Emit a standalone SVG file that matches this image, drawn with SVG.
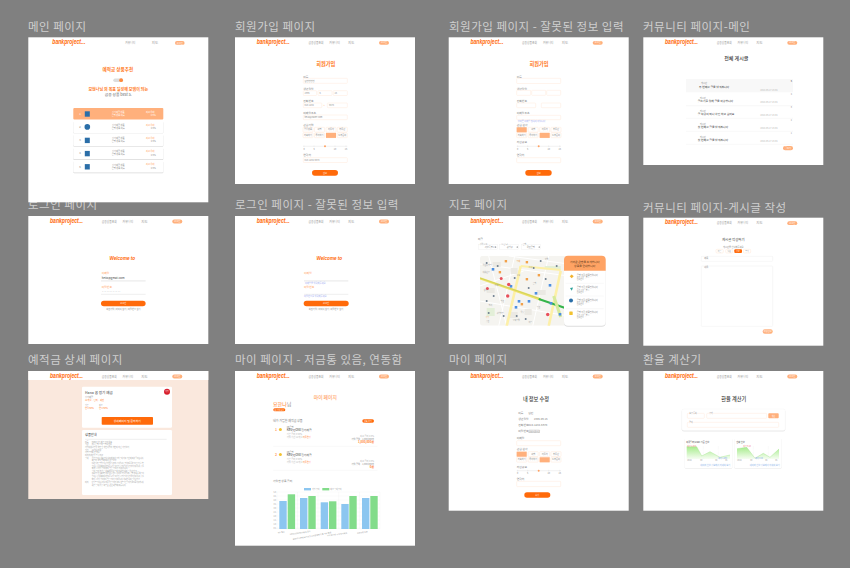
<svg xmlns="http://www.w3.org/2000/svg" xmlns:xlink="http://www.w3.org/1999/xlink" width="850" height="568" viewBox="0 0 850 568">
<style>
text{font-family:"Noto Sans CJK KR","Noto Sans",sans-serif}
.cap{font-size:11.5px;fill:#cfcfcf;letter-spacing:.5px}
.logo{font-family:"Liberation Sans",sans-serif;font-size:6.4px;font-weight:700;font-style:italic;fill:#ff6a0a}
.nav{font-size:3.5px;fill:#999}
.tiny{font-size:2.8px;fill:#888}
.mic{font-size:2.2px;fill:#8a8a8a}
.lb{font-size:2.8px;fill:#808080}
.org{fill:#ff7a1e}
.lorg{fill:#ffa263}
.dk{fill:#3a3a3a}
.gr{fill:#b5b5b5}
.blu{fill:#a4aef2}
.c{text-anchor:middle}
.e{text-anchor:end}
.b{font-weight:700}
.h{font-size:5.2px;font-weight:700}
.inp{fill:#fff;stroke:#ffe9db;stroke-width:.5}
.chip{fill:#fff;stroke:#ffe6d6;stroke-width:.5}
.sel{fill:#ffb07c}
.btn{fill:#ff6a0a}
.pill{fill:#ffb07c}
.sl{stroke:#ddd;stroke-width:.4;fill:none}
.row{fill:#fff}
.rs{fill:#d8d8d8}
.ln{stroke:#eee;stroke-width:.4;fill:none}
.bar1{fill:#8cc6f0}
.bar2{fill:#82dc8a}
.ic{fill:#2a6ea8}
.mt{font-size:1.9px;fill:#999}
.wt{fill:#fff}
</style>
<defs>
<g id="hdr">
<text class="logo" x="21.7" y="6.8" textLength="33" lengthAdjust="spacingAndGlyphs">bankproject...</text>
<text class="nav" x="73.4" y="6.8" textLength="15" lengthAdjust="spacingAndGlyphs">금융상품조회</text>
<text class="nav" x="94.3" y="6.8" textLength="10.5" lengthAdjust="spacingAndGlyphs">커뮤니티</text>
<text class="nav" x="113" y="6.8">지도</text>
<rect class="pill" x="144" y="3.6" width="10" height="3.8" rx="1.9"/>
<text class="mic c" x="149" y="6.2" style="fill:#fff">로그인</text>
</g>
<g id="chips">
<rect class="chip" x="68" y="0" width="10" height="4.8" rx=".6"/><rect class="chip" x="79.5" y="0" width="10" height="4.8" rx=".6"/><rect class="chip" x="91" y="0" width="10" height="4.8" rx=".6"/><rect class="chip" x="102.3" y="0" width="10" height="4.8" rx=".6"/>
<rect class="chip" x="68" y="5.6" width="10" height="4.8" rx=".6"/><rect class="chip" x="79.5" y="5.6" width="10" height="4.8" rx=".6"/><rect class="chip" x="91" y="5.6" width="10" height="4.8" rx=".6"/><rect class="chip" x="102.3" y="5.6" width="10" height="4.8" rx=".6"/>
<text class="mic c" x="73" y="3.2">금융상품</text><text class="mic c" x="84.5" y="3.2">여행</text><text class="mic c" x="96" y="3.2">자동차</text><text class="mic c" x="107.3" y="3.2">부동산</text>
<text class="mic c" x="73" y="8.8">저축하기</text><text class="mic c" x="84.5" y="8.8">투자하기</text><text class="mic c" x="107.3" y="8.8">노후준비</text>
</g>
<g id="slider">
<path class="sl" d="M68 0H112.3M69 -.8V.8M79 -.8V.8M100 -.8V.8M111 -.8V.8"/>
<circle cx="90" cy="0" r="1" fill="#ffa263"/>
<text class="mic c" x="69" y="3.6">0</text><text class="mic c" x="79" y="3.6">5</text><text class="mic c" x="100" y="3.6">10</text><text class="mic c" x="111" y="3.6">15</text>
</g>
<linearGradient id="gg" x1="0" y1="0" x2="0" y2="1"><stop offset="0" stop-color="#a8ec8e"/><stop offset="1" stop-color="#f6fdf2"/></linearGradient>
</defs>

<rect width="850" height="568" fill="#808080"/>

<g id="captions">
<text class="cap" x="28" y="30.5">메인 페이지</text>
<text class="cap" x="235" y="30.5">회원가입 페이지</text>
<text class="cap" x="449" y="30.5">회원가입 페이지 - 잘못된 정보 입력</text>
<text class="cap" x="643" y="30.5">커뮤니티 페이지-메인</text>
<text class="cap" x="28" y="209">로그인 페이지</text>
<text class="cap" x="235" y="209">로그인 페이지 - 잘못된 정보 입력</text>
<text class="cap" x="449" y="209">지도 페이지</text>
<text class="cap" x="643" y="211.5">커뮤니티 페이지-게시글 작성</text>
<text class="cap" x="28" y="364">예적금 상세 페이지</text>
<text class="cap" x="235" y="364">마이 페이지 - 저금통 있음, 연동함</text>
<text class="cap" x="449" y="364">마이 페이지</text>
<text class="cap" x="643" y="364">환율 계산기</text>
</g>

<g id="screen-main" transform="translate(28.3 37.3)">
<rect width="180" height="165" fill="#fff"/>
<text class="logo" x="24" y="6.8" textLength="33" lengthAdjust="spacingAndGlyphs">bankproject...</text>
<text class="nav" x="97" y="6.8" textLength="10" lengthAdjust="spacingAndGlyphs">커뮤니티</text><text class="nav" x="123.5" y="6.8">지도</text>
<rect class="pill" x="146.7" y="3.7" width="9.6" height="3.8" rx="1.9"/><text class="mic c" x="151.5" y="6.4" style="fill:#fff">로그인</text>
<text class="h org c" x="89.6" y="33.8" style="font-size:4.6px">예적금 상품추천</text>
<rect x="85" y="41.2" width="9.8" height="3.4" rx="1.7" fill="#ddd"/><circle cx="92.8" cy="42.9" r="1.9" fill="#ff8a3d"/>
<text class="org c b" x="90" y="53.4" style="font-size:4px">보현나님 의 목표 달성에 보탬이 되는</text>
<text class="c" x="90" y="59" style="font-size:3.8px;fill:#666">금융 상품 best 5.</text>
<rect class="sel" x="45" y="70.7" width="90" height="11.5" rx="1"/>
<rect class="rs" x="45" y="84.5" width="90" height="11.7" rx="1"/><rect class="row" x="45" y="83" width="90" height="12.6" rx="1"/>
<rect class="rs" x="45" y="97.7" width="90" height="11.7" rx="1"/><rect class="row" x="45" y="96.2" width="90" height="12.6" rx="1"/>
<rect class="rs" x="45" y="110.9" width="90" height="11.7" rx="1"/><rect class="row" x="45" y="109.4" width="90" height="12.6" rx="1"/>
<rect class="rs" x="45" y="124.2" width="90" height="11.7" rx="1"/><rect class="row" x="45" y="122.7" width="90" height="12.6" rx="1"/>
<text class="tiny" x="51" y="77.6" style="fill:#fff">1</text><rect class="ic" x="56.5" y="74" width="5" height="5.4"/><text class="mic c" x="90" y="75.8" style="fill:#fff">정기예금 상품</text><text class="mic c" x="90" y="78.8" style="fill:#fff">은행 상품 이름</text><text class="mic c" x="122" y="75.6" style="fill:#fff">최고 우대</text><text class="mic c" x="125" y="79" style="fill:#fff">4.5%</text>
<text class="tiny" x="51" y="90.8">2</text><circle class="ic" cx="59" cy="89.6" r="2.8"/><text class="mic c" x="90" y="88.8">정기예금 상품</text><text class="mic c" x="90" y="91.8">은행 상품 이름</text><text class="mic c lorg" x="122" y="88.6">최고 우대</text><text class="mic c" x="125" y="92">4.5%</text>
<text class="tiny" x="51" y="104">3</text><rect class="ic" x="56.5" y="100.4" width="5" height="5.4"/><text class="mic c" x="90" y="102">정기예금 상품</text><text class="mic c" x="90" y="105">은행 상품 이름</text><text class="mic c lorg" x="122" y="101.8">최고 우대</text><text class="mic c" x="125" y="105.2">4.5%</text>
<text class="tiny" x="51" y="117.2">4</text><rect class="ic" x="56.5" y="113.6" width="5" height="5.4"/><text class="mic c" x="90" y="115.2">정기예금 상품</text><text class="mic c" x="90" y="118.2">은행 상품 이름</text><text class="mic c lorg" x="122" y="115">최고 우대</text><text class="mic c" x="125" y="118.4">4.5%</text>
<text class="tiny" x="51" y="130.4">5</text><rect class="ic" x="56.5" y="126.8" width="5" height="5.4"/><text class="mic c" x="90" y="128.4">정기예금 상품</text><text class="mic c" x="90" y="131.4">은행 상품 이름</text><text class="mic c lorg" x="122" y="128.2">최고 우대</text><text class="mic c" x="125" y="131.6">4.5%</text>
</g>

<g id="screen-signup" transform="translate(235 37.3)">
<rect width="180" height="146.7" fill="#fff"/>
<use xlink:href="#hdr" href="#hdr"/>
<text class="h org c" x="90.7" y="28.8">회원가입</text>
<text class="lb" x="68.3" y="40.4">이름</text><rect class="inp" x="68.3" y="41" width="44" height="5" rx=".6"/><text class="mic" x="69.5" y="44.4">김땡땡땡땡</text>
<text class="lb" x="68.3" y="52.4">생년월일</text><rect class="inp" x="68.3" y="53.4" width="13.3" height="4.8" rx=".6"/><rect class="inp" x="83" y="53.4" width="14" height="4.8" rx=".6"/><rect class="inp" x="98.3" y="53.4" width="14" height="4.8" rx=".6"/>
<text class="mic" x="69.5" y="56.6">1995</text><text class="mic" x="84.5" y="56.6">6</text><text class="mic" x="99.5" y="56.6">15</text>
<text class="lb" x="68.3" y="64.4">전화번호</text><rect class="inp" x="68.3" y="65.7" width="18.5" height="4.7" rx=".6"/><text class="mic lorg" x="88.5" y="69">+</text><rect class="inp" x="92.3" y="65.7" width="20" height="4.7" rx=".6"/>
<text class="mic" x="69.5" y="68.8">010-1234</text><text class="mic" x="94" y="68.8">5678</text>
<text class="lb" x="68.3" y="76.4">이메일주소</text><rect class="inp" x="68.3" y="77.7" width="44" height="4.7" rx=".6"/><text class="mic" x="69.5" y="80.8">hello@naver.com</text>
<text class="lb" x="68.3" y="88.4">관심기업</text>
<use xlink:href="#chips" href="#chips" y="90"/><rect class="sel" x="91" y="95.6" width="10" height="5"/>
<use xlink:href="#slider" href="#slider" y="109"/>
<text class="lb" x="68.3" y="119">연락처</text><rect class="inp" x="68.3" y="120.4" width="44" height="4.8" rx=".6"/><text class="mic" x="69.5" y="123.5">010-1234-5678</text>
<rect class="btn" x="77" y="132.7" width="26" height="5.7" rx="2.85"/><text class="mic c" x="90" y="136.4" style="fill:#fff">완료</text>
</g>

<g id="screen-signup-error" transform="translate(448.7 37.3)">
<rect width="180" height="146.7" fill="#fff"/>
<use xlink:href="#hdr" href="#hdr"/>
<text class="h org c" x="90.3" y="28.8">회원가입</text>
<text class="lb" x="68" y="40.4">이름</text><rect class="inp" x="68" y="41" width="44" height="5.2" rx=".6"/>
<text class="lb" x="68" y="52.4">생년월일</text><rect class="inp" x="68" y="53" width="14" height="5" rx=".6"/><rect class="inp" x="83" y="53" width="14" height="5" rx=".6"/><rect class="inp" x="98" y="53" width="14" height="5" rx=".6"/>
<text class="lb" x="68" y="64.4">전화번호</text><rect class="inp" x="68" y="65.7" width="19" height="4.7" rx=".6"/><rect class="inp" x="92.6" y="65.7" width="19.4" height="4.7" rx=".6"/>
<text class="lb" x="68" y="76.4">이메일주소</text><rect class="inp" x="68" y="78" width="44" height="4.4" rx=".6"/><text class="mic blu" x="69" y="84.5">올바른 이메일 형식이 아닙니다.</text>
<text class="lb" x="68" y="88.4">관심 분야</text>
<use xlink:href="#chips" href="#chips" y="90"/><rect class="sel" x="68" y="90" width="10" height="5"/><rect class="sel" x="91" y="95.6" width="10" height="5"/>
<text class="lb" x="68" y="106">자산규모</text><use xlink:href="#slider" href="#slider" y="109"/>
<text class="lb" x="68" y="119">연락처</text><rect class="inp" x="68" y="120.4" width="44" height="5" rx=".6"/>
<rect class="btn" x="76.6" y="132.7" width="26.4" height="5.7" rx="2.85"/><text class="mic c" x="90" y="136.4" style="fill:#fff">완료</text>
</g>

<g id="screen-community" transform="translate(643.3 37.3)">
<rect width="180" height="127.7" fill="#fff"/>
<use xlink:href="#hdr" href="#hdr"/>
<text class="dk c" x="93" y="23.2" style="font-size:5px;font-weight:500">전체 게시글</text>
<rect x="42.7" y="41.7" width="107" height="13.3" fill="#f8f8f8"/>
<path class="ln" d="M42.7 68.4H149.7M42.7 81H149.7M42.7 94H149.7M42.7 107H149.7"/>
<text class="mic" x="57.7" y="47">게시판</text><text class="tiny dk" x="55.7" y="50.5">두 번째로 글을 남겨봅니다</text>
<text class="mic" x="56.5" y="62">게시판</text><text class="tiny dk" x="54.5" y="65">글쓰기를 위해 글을 작성합니다</text>
<text class="mic" x="56.5" y="75">게시판</text><text class="tiny dk" x="54.5" y="78">글 작성이 되나 확인 하고 싶어요</text>
<text class="mic" x="56.5" y="88">게시판</text><text class="tiny dk" x="54.5" y="91">첫 번째로 글을 남겨봅니다</text>
<text class="mic" x="56.5" y="101">게시판</text><text class="tiny dk" x="54.5" y="104">첫 번째로 글을 남겨봅니다</text>
<text class="mic gr" x="117" y="53.5">2024-05-17 15:04</text><text class="mic gr" x="117" y="65.5">2024-05-17 15:04</text><text class="mic gr" x="117" y="79">2024-05-17 15:04</text><text class="mic gr" x="117" y="92">2024-05-17 15:04</text><text class="mic gr" x="117" y="105">2024-05-17 15:04</text>
<text class="mic dk" x="147.5" y="44.8">5</text><text class="mic" x="147.5" y="57.8">4</text><text class="mic" x="147.5" y="70.8">3</text><text class="mic" x="147.5" y="83.8">2</text><text class="mic" x="147.5" y="96.8">1</text>
<rect class="pill" x="139.7" y="108.7" width="10" height="4.3" rx="2.1"/><text class="mic c" x="144.7" y="111.7" style="fill:#fff">글쓰기</text>
</g>

<g id="screen-login" transform="translate(28.3 216)">
<rect width="180" height="128" fill="#fff"/>
<use xlink:href="#hdr" href="#hdr"/>
<text class="c b" x="94" y="43.6" fill="#ff6a0a" style="font-family:'Liberation Sans',sans-serif;font-style:italic;font-size:4.6px">Welcome to</text>
<text class="lb lorg" x="73.4" y="58">이메일</text><rect x="72.7" y="64" width="44.6" height="1.7" fill="#f1f1f1"/><text class="tiny dk" x="73.4" y="63">hello@gmail.com</text>
<text class="lb lorg" x="73.4" y="71.8">비밀번호</text><text class="tiny" x="73.4" y="77.2">············</text><path stroke="#ddd" stroke-width=".5" d="M72.7 78.3H117.3"/>
<rect class="btn" x="72.7" y="84.7" width="44.6" height="5.6" rx="2.8"/><text class="mic c" x="95" y="88.4" style="fill:#fff">로그인</text>
<text class="mic c" x="95" y="94.2">회원가입 | 아이디 찾기 | 비밀번호 찾기</text>
</g>

<g id="screen-login-error" transform="translate(235 216)">
<rect width="180" height="128" fill="#fff"/>
<use xlink:href="#hdr" href="#hdr"/>
<text class="c b" x="94.3" y="43.6" fill="#ff6a0a" style="font-family:'Liberation Sans',sans-serif;font-style:italic;font-size:4.6px">Welcome to</text>
<text class="lb lorg" x="69" y="58">이메일</text><rect x="69" y="64" width="44.3" height="1.7" fill="#f1f1f1"/><text class="mic blu" x="70" y="68">이메일을 입력해주세요.</text>
<text class="lb lorg" x="69" y="71.8">비밀번호</text><path stroke="#ddd" stroke-width=".5" d="M69 78.3H113.3"/><text class="mic blu" x="69" y="80.8">비밀번호를 입력해주세요.</text>
<rect class="btn" x="68.7" y="84.7" width="45" height="5.6" rx="2.8"/><text class="mic c" x="91" y="88.4" style="fill:#fff">로그인</text>
<text class="mic c" x="91" y="94.2">회원가입 | 아이디 찾기 | 비밀번호 찾기</text>
</g>

<g id="screen-map" transform="translate(448.7 216)">
<rect width="180" height="128" fill="#fff"/>
<use xlink:href="#hdr" href="#hdr"/>
<text class="lb" x="29" y="24">적금</text>
<g stroke="#eee" stroke-width=".4" fill="#fff"><rect x="29.6" y="28.3" width="19" height="5.4"/><rect x="51" y="28.3" width="19" height="5.4"/><rect x="72.6" y="28.3" width="19.4" height="5.4"/></g>
<text class="mt" x="31" y="28.8">광역시/도</text><text class="mt" x="52.4" y="28.8">시/군/구</text><text class="mt" x="74" y="28.8">은행</text>
<text class="mic" x="36" y="32">서울특별시</text><text class="mic" x="58" y="32">강남구</text><text class="mic" x="78" y="32">국민은행</text>
<g fill="#333"><circle cx="47" cy="31" r=".5"/><circle cx="68.5" cy="31" r=".5"/><circle cx="90.5" cy="31" r=".5"/></g>
<clipPath id="mapc"><rect x="31.3" y="39.7" width="88" height="70" rx="3"/></clipPath>
<g clip-path="url(#mapc)">
<rect x="31.3" y="39.7" width="90" height="70" fill="#f5f4f0"/>
<g stroke="#fff" stroke-width="1" fill="none"><path d="M31 48L120 60M40 40L58 110M66 40L50 110M31 85L120 100M100 40L84 110M31 70L75 55M60 40L120 48"/></g>
<g fill="#e3efd8"><rect x="96" y="50" width="16" height="3.4"/><rect x="38" y="92" width="8" height="8"/></g>
<g fill="#ebe9e3"><rect x="44" y="46" width="8" height="5"/><rect x="62" y="52" width="7" height="6"/><rect x="60" y="96" width="9" height="6"/><rect x="38" y="72" width="8" height="5"/><rect x="88" y="74" width="9" height="5"/><rect x="76" y="93" width="7" height="6"/></g>
<path d="M72 50L58 110" stroke="#fdf0a8" stroke-width="2.6" fill="none"/>
<path d="M112 55L100 110" stroke="#fdf0a8" stroke-width="2.6" fill="none"/>
<path d="M72 50L112 54" stroke="#fdf0a8" stroke-width="2.2" fill="none"/>
<path d="M31.3 62.3L92 83.5" stroke="#eee06a" stroke-width="2.4" fill="none"/>
<path d="M31.3 62L92 83" stroke="#b5c94a" stroke-width=".5" fill="none"/>
<path d="M90 83L118 92.5" stroke="#35b54a" stroke-width="2.2" fill="none"/>
<path d="M105 80L112 101" stroke="#d6ea9c" stroke-width="3" fill="none"/>
<g fill="#4d8fe0"><rect x="43" y="52" width="2.6" height="2.6"/><rect x="61" y="69" width="2.6" height="2.6"/><rect x="86" y="76" width="2.6" height="2.6"/><rect x="79" y="84" width="2.6" height="2.6"/><rect x="69" y="84" width="2.6" height="2.6"/><rect x="100" y="68" width="2.6" height="2.6"/><rect x="101" y="86" width="2.6" height="2.6"/><rect x="110" y="97" width="2.6" height="2.6"/><rect x="66" y="90" width="2.6" height="2.6"/></g>
<g fill="#e8505b"><circle cx="52.5" cy="62.5" r="1.5"/><circle cx="60" cy="68.5" r="1.7"/><circle cx="38.7" cy="72.5" r="1.5"/><circle cx="59" cy="80" r="1.7"/><circle cx="99" cy="98.5" r="1.7"/></g>
<g fill="#f2a14a"><rect x="50" y="55" width="2.4" height="2.4"/><rect x="77" y="62" width="2.4" height="2.4"/><rect x="77" y="45" width="2.4" height="2.4"/><rect x="89" y="58" width="2.4" height="2.4"/><rect x="72" y="87" width="2.4" height="2.4"/><rect x="56" y="44" width="2.4" height="2.4"/></g>
<g fill="#6f7f8f"><circle cx="38" cy="47" r="1"/><circle cx="49" cy="50" r="1"/><circle cx="85" cy="52" r="1"/><circle cx="97" cy="63" r="1"/><circle cx="38" cy="85" r="1"/><circle cx="40" cy="97" r="1"/><circle cx="77" cy="103" r="1"/><circle cx="92" cy="45" r="1"/><circle cx="55" cy="100" r="1"/><circle cx="66" cy="62" r="1"/><circle cx="45" cy="80" r="1"/><circle cx="80" cy="72" r="1"/><circle cx="108" cy="50" r="1"/><circle cx="68" cy="100" r="1"/></g>
<text class="mt" x="34" y="50">역삼동 빌딩</text><text class="mt" x="34" y="57">테헤란로</text><text class="mt" x="35" y="75">상가</text><text class="mt" x="52" y="86">병원</text><text class="mt" x="48" y="98">강남빌딩</text><text class="mt" x="64" y="105">오피스텔</text><text class="mt" x="80" y="52">타워</text><text class="mt" x="84" y="68">은행</text><text class="mt" x="37" y="106">공원</text><text class="mt" x="68" y="60">교회</text><text class="mt" x="46" y="70">아파트</text><text class="mt" x="40" y="90">빌라</text><text class="mt" x="72" y="97">약국</text><text class="mt" x="88" y="92">학원</text><text class="mt" x="96" y="44">호텔</text><text class="mt" x="80" y="107">마트</text>
<text class="mt" x="68" y="46" style="fill:#ef9a45">카페</text><text class="mt" x="37" y="102" style="fill:#ef9a45">식당</text>
</g>
<rect x="115.3" y="41" width="41.7" height="69.7" rx="4" fill="#ddd"/>
<rect x="115.3" y="39.7" width="41.7" height="70" rx="4" fill="#fff"/>
<path d="M115.3 54.7V43.7a4 4 0 0 1 4-4H153a4 4 0 0 1 4 4V54.7Z" fill="#ffa364"/>
<text class="tiny c" x="136" y="47.3" style="fill:#5a3a20">가까운 은행을 소개합니다</text><text class="tiny c" x="136" y="51" style="fill:#5a3a20">상품을 안내합니다</text>
<path class="ln" d="M117 67.3H155M117 80H155M117 92.7H155"/>
<path d="M121 60.2l2-1.7 2 1.7-2 2z" fill="#f2b22e"/><path d="M121.3 72l3-.6-1.2 3.4z" fill="#2aa198"/><circle cx="122.3" cy="84.5" r="2" fill="#2a6ea8"/><rect x="120.6" y="95.5" width="3.4" height="3.4" rx=".5" fill="#f2c230"/>
<text class="mic" x="128" y="59.5">은행 지점 상품명입니다</text><text class="mt" x="128" y="62">주소 서울특별시</text><text class="mt" x="128" y="64">전화번호</text>
<text class="mic" x="128" y="72">은행 지점 상품명입니다</text><text class="mt" x="128" y="74.5">주소 서울특별시</text><text class="mt" x="128" y="76.5">전화번호</text>
<text class="mic" x="128" y="84.7">은행 지점 상품명입니다</text><text class="mt" x="128" y="87">주소 서울특별시</text><text class="mt" x="128" y="89">전화번호</text>
<text class="mic" x="128" y="97.2">은행 지점 상품명입니다</text><text class="mt" x="128" y="99.7">주소 서울특별시</text><text class="mt" x="128" y="101.7">전화번호</text>
</g>

<g id="screen-community-write" transform="translate(643.3 217.7)">
<rect width="180" height="128" fill="#fff"/>
<use xlink:href="#hdr" href="#hdr"/>
<text class="dk c" x="90" y="23" style="font-size:3.4px">게시글 작성하기</text>
<text class="mic c" x="90" y="30.3">게시판을 선택해주세요</text>
<rect class="chip" x="72.7" y="31.6" width="7.3" height="3.7" rx="1"/><rect class="chip" x="82.4" y="31.6" width="7" height="3.7" rx="1"/><rect class="btn" x="91" y="31.6" width="7.7" height="3.7" rx="1"/><rect class="chip" x="100" y="31.6" width="7.4" height="3.7" rx="1"/>
<text class="mt c" x="76.3" y="34.2">자유</text><text class="mt c" x="86" y="34.2">질문</text><text class="mt c" x="94.8" y="34.2" style="fill:#fff">정보</text><text class="mt c" x="103.7" y="34.2">후기</text>
<rect x="58" y="38.6" width="71.4" height="5" rx=".6" fill="#fff" stroke="#eee" stroke-width=".5"/><text class="mic" x="61" y="40.9">제목</text>
<rect x="58" y="48.3" width="71.4" height="60.3" rx=".6" fill="#fff" stroke="#eee" stroke-width=".5"/><text class="mic" x="61" y="50.6">내용</text>
<rect class="pill" x="119.4" y="111.6" width="10" height="4.4" rx="2.2"/><text class="mic c" x="124.4" y="114.7" style="fill:#fff">작성완료</text>
</g>

<g id="screen-deposit" transform="translate(28.3 371)">
<rect width="180" height="128" fill="#fae8dd"/>
<rect width="180" height="9" fill="#fff"/>
<use xlink:href="#hdr" href="#hdr"/>
<rect x="53.7" y="15.7" width="90" height="41" rx="1.2" fill="#fff"/>
<rect x="53.7" y="59" width="90" height="65" rx="1.2" fill="#fff"/>
<circle cx="138.7" cy="20.7" r="3" fill="#d81e2c"/><text class="mt c" x="138.7" y="21.4" style="fill:#fff">가입</text>
<text class="dk" x="56.7" y="23.4" style="font-size:3.6px">Hana 꿈 정기 예금</text>
<text class="mic" x="56.7" y="27.3">정기예금</text>
<text class="mic org" x="56.7" y="30.3">12개월 · 단리 · 세전</text>
<text class="mt" x="56.7" y="34.7">기본</text><text class="mt" x="70.7" y="34.7">최고</text>
<text class="mic org" x="56.7" y="37.6">연 3.50%</text><text class="mic org" x="70.7" y="37.6">연 4.50%</text>
<rect class="btn" x="73.4" y="46" width="51.3" height="7.7" rx=".8"/><text class="tiny c" x="99" y="50.8" style="fill:#fff">상세페이지 및 문의하기</text>
<text class="dk" x="56.7" y="65.2" style="font-size:3.2px">상품안내</text>
<path stroke="#ddd" stroke-width=".5" d="M56.7 68.3H138.3"/>
<text class="mt" x="56.7" y="71.5">이름</text><text class="mt" x="63.5" y="71.5">Hana 정기 예금 금리 상품</text>
<text class="mt" x="56.7" y="74.2">기관</text><text class="mt" x="63.5" y="74.2">하나은행 스마트뱅킹 전용</text>
<text class="mt" x="56.7" y="76.9">가입대상</text><text class="mt" x="63.5" y="76.9">실명의 개인 및 개인사업자 개인이 아닌 가입불가</text>
<text class="mt" x="56.7" y="79.6">기간</text><text class="mt" x="63.5" y="79.6">12개월 이상</text>
<text class="mt" x="56.7" y="82.3">가입금액</text><text class="mt" x="63.5" y="82.3">제 한 없음</text>
<text class="mt" x="56.7" y="85">이자지급</text><text class="mt" x="63.5" y="85">만기 일시 지급</text>
<text class="mt" x="56.7" y="87.7">우대</text><text class="mt" x="63.5" y="87.7" textLength="52" lengthAdjust="spacingAndGlyphs">가입 금리는 상품 안내 내용에 따라 고객 우대 적용 기간에 따라 달라집니다.</text>
<text class="mt" x="63.5" y="90.2">예금자 보호 법에 따라 원금 보호</text>
<text class="mt" x="63.5" y="93" textLength="52" lengthAdjust="spacingAndGlyphs">자세한 사항은 영업점 또는 고객센터로 문의하시기 바랍니다. 은행 계좌를 통해 금리 및 조건을 확인</text>
<text class="mt" x="63.5" y="95.6" textLength="52" lengthAdjust="spacingAndGlyphs">금리는 시장 상황에 따라 변동될 수 있으며 가입 시점의 금리가 만기까지 적용됩니다. 중도</text>
<text class="mt" x="63.5" y="98.2">해지 시 약정 금리보다 낮은 금리가 적용됩니다.</text>
<text class="mt" x="63.5" y="100.8" textLength="45" lengthAdjust="spacingAndGlyphs">우대 금리 조건은 상품마다 다르며 자세한 내용은 약관 참고</text>
<text class="mt" x="63.5" y="103.4" textLength="52" lengthAdjust="spacingAndGlyphs">상품 가입 전 상품설명서와 약관을 반드시 읽어보시기 바랍니다. 은행 계좌를 통해 금리</text>
<text class="mt" x="63.5" y="106" textLength="52" lengthAdjust="spacingAndGlyphs">금리는 시장 상황에 따라 변동될 수 있으며 가입 시점의 금리가 만기까지 적용됩니다. 중도</text>
<text class="mt" x="63.5" y="108.6" textLength="48" lengthAdjust="spacingAndGlyphs">해지 시 약정 금리보다 낮은 금리가 적용됩니다. 자세한 내용은 약관 참고</text>
<text class="mt" x="56.7" y="112">이자</text><text class="mt" x="63.5" y="112" textLength="52" lengthAdjust="spacingAndGlyphs">만기 후 금리는 1개월 이내 기본 금리의 50%, 이후 기본 금리의 20%를 적용합니다</text>
<text class="mt" x="63.5" y="114.8">세금 우대 가능 여부는 관련 세법에 따릅니다</text>
</g>

<g id="screen-mypage-linked" transform="translate(235 371)">
<rect width="180" height="174.7" fill="#fff"/>
<use xlink:href="#hdr" href="#hdr"/>
<text class="lorg c" x="90.3" y="28" style="font-size:4.8px;font-weight:500">마이 페이지</text>
<text x="38" y="35.2" style="font-size:5px"><tspan class="org">요한나</tspan><tspan fill="#888">님</tspan></text>
<rect class="btn" x="38.3" y="37.3" width="12" height="3" rx="1.5"/><text class="mt c" x="44.3" y="39.5" style="fill:#fff">내 정보 수정</text>
<text class="lb" x="38" y="50.8" style="font-size:3px">내가 가입한 예적금 상품</text>
<rect class="btn" x="127.3" y="48.3" width="11.7" height="3.4" rx="1.7"/><text class="mt c" x="133" y="50.7" style="fill:#fff">상품 보기</text>
<text class="lorg b" x="40" y="59.5" style="font-size:3.4px">1</text><circle cx="45.4" cy="58.4" r="1.5" fill="#f2c230"/>
<text class="mic" x="51.7" y="56.8">KB은행</text><text class="tiny dk" x="51.7" y="60.3">KB국민ONE정기예금</text><text class="mic gr" x="51.7" y="63.8">기본 금리 3.50%</text><text class="mic gr" x="51.7" y="67.2">가입 기간 12개월 <tspan class="org">자동연장</tspan></text>
<text class="mic gr e" x="139" y="66">최고 금리 4.0%</text><text class="mic e" x="139" y="68.8">가입 금액 · 1,000,000원</text><text class="tiny org e b" x="139" y="72.4">1,000,000원</text>
<path class="ln" d="M38.3 75.3H142.3"/>
<text class="lorg b" x="40" y="84.5" style="font-size:3.4px">2</text><circle cx="45.4" cy="83.4" r="1.5" fill="#f2c230"/>
<text class="mic" x="51.7" y="81.8">KB은행</text><text class="tiny dk" x="51.7" y="85.3">KB국민ONE정기예금</text><text class="mic gr" x="51.7" y="88.8">기본 금리 3.50%</text><text class="mic gr" x="51.7" y="92.2">가입 기간 12개월 <tspan class="org">자동연장</tspan></text>
<text class="mic gr e" x="139" y="91">최고 금리 4.0%</text><text class="mic e" x="139" y="93.8">가입 금액 · 1,000,000원</text><text class="tiny org e b" x="139" y="97.4">0원</text>
<path class="ln" d="M38.3 99.3H142.3"/>
<text class="lb" x="38" y="110.5">가입한 상품 금리</text>
<rect class="bar1" x="69" y="117" width="7" height="2.4"/><text class="mt" x="77" y="119">가입 금리</text>
<rect class="bar2" x="87.3" y="117" width="7" height="2.4"/><text class="mt" x="95.3" y="119">최고 우대 금리</text>
<g stroke="#efefef" stroke-width=".3" fill="none"><path d="M42 121H145M42 125H145M42 129H145M42 133H145M42 137H145M42 141H145M42 145H145M42 149H145M42 153H145M42 157H145M42 157.7H145M42 121V158M62.5 121V158M83 121V158M103.7 121V158M124.5 121V158M145 121V158"/></g>
<text class="mt e" x="41" y="122">5.0</text><text class="mt e" x="41" y="126">4.5</text><text class="mt e" x="41" y="130">4.0</text><text class="mt e" x="41" y="134">3.5</text><text class="mt e" x="41" y="138">3.0</text><text class="mt e" x="41" y="142">2.5</text><text class="mt e" x="41" y="146">2.0</text><text class="mt e" x="41" y="150">1.5</text><text class="mt e" x="41" y="154">1.0</text><text class="mt e" x="41" y="158">0.5</text>
<rect class="bar1" x="44.3" y="130" width="7.4" height="28"/><rect class="bar2" x="52.7" y="123.3" width="7.4" height="34.7"/>
<rect class="bar1" x="65" y="127" width="7.4" height="31"/><rect class="bar2" x="73.3" y="125" width="7.4" height="33"/>
<rect class="bar1" x="85.7" y="131.3" width="7.4" height="26.7"/><rect class="bar2" x="94" y="130.3" width="7.4" height="27.7"/>
<rect class="bar1" x="106.3" y="133" width="7.4" height="25"/><rect class="bar2" x="114.3" y="125" width="7.4" height="33"/>
<rect class="bar1" x="127" y="127" width="7.4" height="31"/><rect class="bar2" x="135.3" y="125" width="7.4" height="33"/>
<text class="mt" transform="translate(43 162.5) rotate(-8)">NH 올원</text>
<text class="mt" transform="translate(55 164) rotate(-8)">KB국민ONE정기예금 금리</text>
<text class="mt" transform="translate(58 169) rotate(-10)">BNK부산은행 정기적금 스마트뱅킹 전용 가입 상품</text>
<text class="mt" transform="translate(92 165.5) rotate(-8)">우리 첫거래 우대 정기예금</text>
<text class="mt" transform="translate(122 163) rotate(-8)">신한은행 저축</text>
</g>

<g id="screen-myinfo" transform="translate(448.7 371)">
<rect width="180" height="139.7" fill="#fff"/>
<use xlink:href="#hdr" href="#hdr"/>
<text class="dk c" x="87.3" y="30" style="font-size:5.2px;font-weight:500">내 정보 수정</text>
<text class="lb" x="69.6" y="42.6">이름</text><text class="lb" x="79.6" y="42.6">김민</text>
<text class="lb" x="69.6" y="48.6">생년월일</text><text class="lb" x="85" y="48.6">1995.06.15</text>
<text class="lb" x="69.6" y="54.6">전화번호</text><text class="lb" x="79.6" y="54.6">010-1234-5678</text>
<text class="lb" x="69.6" y="61.3">비밀번호</text><rect x="79.6" y="58.7" width="11.7" height="3.3" rx=".8" fill="#ccc"/><text class="mt c" x="85.4" y="61" style="fill:#fff">비밀번호 변경</text>
<text class="lb" x="68" y="68.2">이메일</text><rect class="inp" x="68" y="69.7" width="44" height="5" rx=".6"/>
<text class="lb" x="68" y="79">관심 분야</text>
<use xlink:href="#chips" href="#chips" y="80.7"/><rect class="sel" x="68" y="80.7" width="10" height="5"/><rect class="sel" x="91" y="86.3" width="10" height="5"/>
<text class="lb" x="68" y="97">자산규모</text><use xlink:href="#slider" href="#slider" y="99.7"/>
<text class="lb" x="68" y="109.3">연락처</text><rect class="inp" x="68" y="110.3" width="44" height="5.3" rx=".6"/>
<rect class="btn" x="75.6" y="121.3" width="26" height="5.4" rx="2.7"/><text class="mic c" x="88.6" y="124.8" style="fill:#fff">수정</text>
</g>

<g id="screen-exchange" transform="translate(643.3 371)">
<rect width="180" height="139.7" fill="#fff"/>
<use xlink:href="#hdr" href="#hdr"/>
<text class="dk c" x="90.4" y="30" style="font-size:5.2px;font-weight:500">환율 계산기</text>
<rect x="38.4" y="38.5" width="103.6" height="22" rx="2" fill="#e9e9e9"/><rect x="38.4" y="38" width="103.6" height="21.6" rx="2" fill="#fff" stroke="#f0f0f0" stroke-width=".3"/>
<rect class="inp" x="44" y="42.3" width="17" height="5" rx=".8"/><rect class="inp" x="63.4" y="42.3" width="60" height="5" rx=".8"/><rect class="pill" x="125" y="42.3" width="10.4" height="5" rx=".8"/><rect class="inp" x="44" y="51.3" width="91.4" height="5" rx=".8"/>
<text class="mt" x="46" y="43.3">출금 통화</text><text class="mt" x="66" y="43.3">금액</text><text class="mt c" x="130.2" y="45.5" style="fill:#fff">계산</text><text class="mt" x="46" y="52.4">결과</text>
<rect x="41.4" y="68" width="47.6" height="29.6" rx="1" fill="#e6e6e6"/><rect x="41.4" y="67.7" width="47.6" height="29.3" rx="1" fill="#fff"/>
<rect x="91" y="68" width="47.3" height="29.6" rx="1" fill="#e6e6e6"/><rect x="91" y="67.7" width="47.3" height="29.3" rx="1" fill="#fff"/>
<text class="mic dk" x="43" y="71.5">미국달러(USD) 기준 환율</text><text class="mic dk" x="93" y="71.5">엔화 환율</text>
<path d="M43.4 75.7H53.4L58.4 85L66.7 80.7L76.7 86.3L86.7 84V88H43.4Z" fill="url(#gg)"/>
<path d="M43.4 75.7H53.4L58.4 85L66.7 80.7L76.7 86.3L86.7 84" fill="none" stroke="#a0e488" stroke-width=".4"/>
<path d="M93.7 77.7L103.4 76.3L111.7 87.3L120 82.3L126.7 86.3L135.7 78V88H93.7Z" fill="url(#gg)"/>
<path d="M93.7 77.7L103.4 76.3L111.7 87.3L120 82.3L126.7 86.3L135.7 78" fill="none" stroke="#a0e488" stroke-width=".4"/>
<path class="ln" stroke-dasharray=".6 .6" d="M60 75V88M75 75V88M110 75V88M125 75V88"/>
<text class="mt" x="44" y="76" style="fill:#f07c7c">최고 1,380</text><text class="mt" x="100" y="76" style="fill:#f07c7c">최고 9.10</text>
<text class="mt" x="75" y="87.5" style="fill:#7c9cf0">최저 1,290</text><text class="mt" x="112" y="87.5" style="fill:#7c9cf0">최저 8.60</text>
<text class="mt" x="44" y="89.8">2024</text><text class="mt" x="57" y="89.8">03</text><text class="mt" x="72" y="89.8">04</text><text class="mt" x="82" y="89.8">05</text><text class="mt" x="94" y="89.8">2024</text><text class="mt" x="107" y="89.8">03</text><text class="mt" x="122" y="89.8">04</text><text class="mt" x="132" y="89.8">05</text>
<text class="mic e" x="87" y="95" style="fill:#8cb4ea">네이버 환율 정보에서 자세히 보기</text><text class="mic e" x="136.5" y="95" style="fill:#8cb4ea">네이버 환율 정보에서 자세히 보기</text>
</g>
</svg>
